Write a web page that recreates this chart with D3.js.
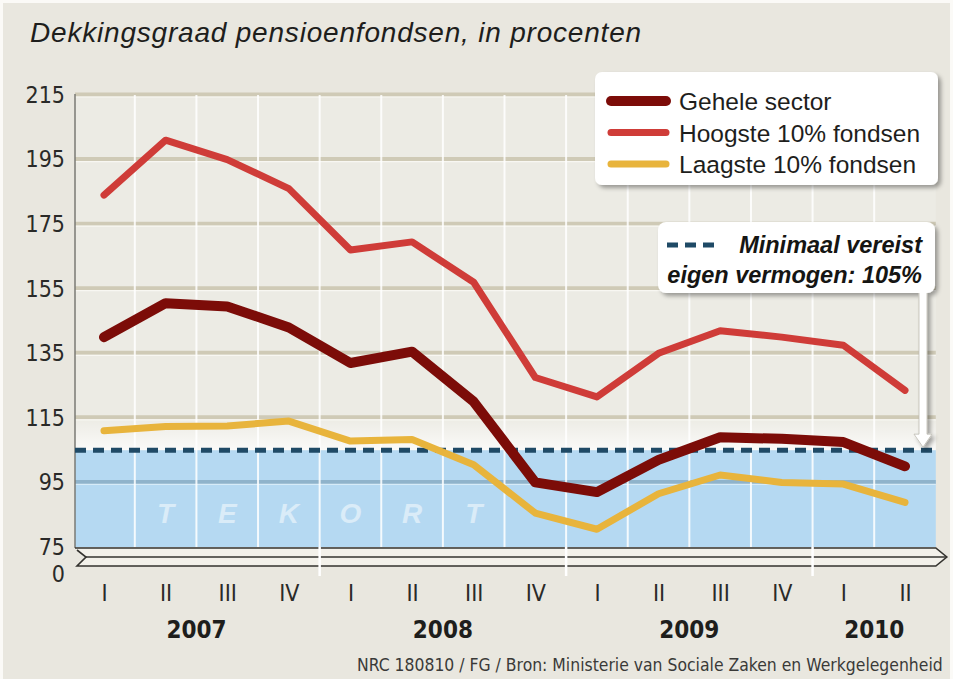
<!DOCTYPE html>
<meta charset="utf-8">
<style>
body { margin: 0; background: #fff; }
.narrow { font-family: "DejaVu Sans Condensed", "DejaVu Sans", sans-serif; font-stretch: condensed; }
.sans { font-family: "Liberation Sans", Arial, sans-serif; }
</style>
<body>
<script src="https://d3js.org/d3.v7.min.js"></script>
<script>

// quarters 2007 Q1 .. 2010 Q2
var quarters = ["I", "II", "III", "IV", "I", "II", "III", "IV", "I", "II", "III", "IV", "I", "II"];
var quarterYears = [2007, 2007, 2007, 2007, 2008, 2008, 2008, 2008, 2009, 2009, 2009, 2009, 2010, 2010];
var years = [2007, 2008, 2009, 2010];

var geheleSector = [140, 150.5, 149.5, 143, 132, 135.5, 120, 95, 92, 102, 109, 108.5, 107.5, 100];
var hoogste10 = [184, 201, 195, 186, 167, 169.5, 157, 127.5, 121.5, 135, 142, 140, 137.5, 123.5];
var laagste10 = [111, 112.3, 112.5, 114, 107.8, 108.3, 100.5, 85.5, 80.5, 91.5, 97.3, 95, 94.5, 88.8];

var seriesNames = ["Gehele sector", "Hoogste 10% fondsen", "Laagste 10% fondsen"];
var yTicks = [75, 95, 115, 135, 155, 175, 195, 215];
var brokenAxisLabel = "0";
var minimumVereist = 105;
var tekortLetters = ["T", "E", "K", "O", "R", "T"];

var width = 953;
var height = 679;

var svg = d3.select("body").append("svg")
  .attr("width", width).attr("height", height);

var defs = svg.append("defs");
var shadow = defs.append("filter").attr("id", "shadow")
  .attr("x", "-10%").attr("y", "-10%").attr("width", "130%").attr("height", "140%");
shadow.append("feDropShadow")
  .attr("dx", 3).attr("dy", 3).attr("stdDeviation", 2)
  .attr("flood-color", "#000").attr("flood-opacity", 0.35);

var glow = defs.append("linearGradient").attr("id", "glow")
  .attr("x1", 0).attr("y1", 0).attr("x2", 0).attr("y2", 1);
glow.append("stop").attr("offset", "0%").attr("stop-color", "#fff").attr("stop-opacity", 0);
glow.append("stop").attr("offset", "100%").attr("stop-color", "#fff").attr("stop-opacity", 0.75);

svg.append("rect")
  .attr("width", width).attr("height", height).attr("fill", "#fbfaf7");
svg.append("rect")
  .attr("x", 3).attr("y", 3)
  .attr("width", width - 6).attr("height", height - 3)
  .attr("fill", "#e9e7df");

var x = d3.scalePoint()
  .domain(d3.range(quarters.length))
  .range([104, 905]);
var step = x.step();

var y = d3.scaleLinear()
  .domain([75, 215])
  .range([547, 95]);

var plotLeft = 75;
var plotRight = x(quarters.length - 1) + step / 2;

// plot background
svg.append("rect")
  .attr("x", plotLeft).attr("y", y(215))
  .attr("width", plotRight - plotLeft).attr("height", y(75) - y(215))
  .attr("fill", "#ecebe4");

// tekort area (below the required minimum)
svg.append("rect")
  .attr("x", plotLeft).attr("y", y(minimumVereist))
  .attr("width", plotRight - plotLeft).attr("height", y(75) - y(minimumVereist))
  .attr("fill", "#b5d9f2");

svg.append("rect")
  .attr("x", plotLeft).attr("y", y(minimumVereist + 10))
  .attr("width", plotRight - plotLeft).attr("height", y(minimumVereist) - y(minimumVereist + 10))
  .attr("fill", "url(#glow)");

// horizontal grid
yTicks.filter(function(d) { return d > 75; }).forEach(function(v) {
  var below = v < minimumVereist;
  svg.append("line")
    .attr("x1", plotLeft).attr("x2", plotRight)
    .attr("y1", y(v) - 0.5).attr("y2", y(v) - 0.5)
    .attr("stroke", below ? "#8fb3cb" : "#cfcab6")
    .attr("stroke-width", 4);
  svg.append("line")
    .attr("x1", plotLeft).attr("x2", plotRight)
    .attr("y1", y(v) + 2).attr("y2", y(v) + 2)
    .attr("stroke", below ? "#d6ebf8" : "#f8f7f2")
    .attr("stroke-width", 1.2);
});

// vertical grid
d3.range(quarters.length - 1).forEach(function(i) {
  svg.append("line")
    .attr("x1", x(i) + step / 2).attr("x2", x(i) + step / 2)
    .attr("y1", y(215)).attr("y2", y(75))
    .attr("stroke", "#fff")
    .attr("stroke-opacity", 0.85)
    .attr("stroke-width", 2);
});

// TEKORT letters
svg.selectAll("text.tekort").data(tekortLetters).enter().append("text")
  .attr("class", "tekort sans")
  .attr("x", function(d, i) { return x(i + 1); })
  .attr("y", 523)
  .attr("text-anchor", "middle")
  .style("font-size", "28px")
  .style("font-weight", "bold")
  .style("font-style", "italic")
  .attr("fill", "#fff")
  .attr("fill-opacity", 0.5)
  .text(function(d) { return d; });

// y axis line
svg.append("line")
  .attr("x1", plotLeft).attr("x2", plotLeft)
  .attr("y1", y(215) - 1).attr("y2", y(75) + 1)
  .attr("stroke", "#7a7a74").attr("stroke-width", 1.5);

// broken axis band
var bandTop = y(75) + 1, bandMid = bandTop + 9, bandBot = bandTop + 18;
svg.append("path")
  .attr("d", "M" + plotLeft + "," + bandTop + "L" + plotRight + "," + bandTop +
    "L" + (plotRight + 11) + "," + bandMid + "L" + plotRight + "," + bandBot +
    "L" + (plotLeft + 2) + "," + bandBot + "L" + (plotLeft + 11) + "," + bandMid + "L" + (plotLeft + 2) + "," + (bandTop + 2))
  .attr("fill", "#f3f1ea")
  .attr("stroke", "#34332f")
  .attr("stroke-width", 1.6)
  .attr("stroke-linejoin", "miter");
svg.append("line")
  .attr("x1", plotLeft + 11).attr("x2", plotRight + 11)
  .attr("y1", bandMid).attr("y2", bandMid)
  .attr("stroke", "#34332f").attr("stroke-width", 1.6);

// year boundaries run through the axis band
d3.range(quarters.length - 1).forEach(function(i) {
  if (quarterYears[i] !== quarterYears[i + 1]) {
    svg.append("line")
      .attr("x1", x(i) + step / 2).attr("x2", x(i) + step / 2)
      .attr("y1", y(75)).attr("y2", bandBot + 10)
      .attr("stroke", "#fff").attr("stroke-width", 2.5);
  }
});

// minimum required line
svg.append("line")
  .attr("x1", plotLeft).attr("x2", plotRight)
  .attr("y1", y(minimumVereist)).attr("y2", y(minimumVereist))
  .attr("stroke", "#1f4a66")
  .attr("stroke-width", 5)
  .attr("stroke-dasharray", "11,7");

// series
var series = [
  { name: seriesNames[1], values: hoogste10, color: "#cf3c38", w: 7 },
  { name: seriesNames[2], values: laagste10, color: "#e8b43c", w: 7 },
  { name: seriesNames[0], values: geheleSector, color: "#7c0c08", w: 10 }
];

var line = d3.line()
  .x(function(d, i) { return x(i); })
  .y(function(d) { return y(d); });

svg.selectAll("path.series").data(series).enter().append("path")
  .attr("class", "series")
  .attr("d", function(d) { return line(d.values); })
  .attr("fill", "none")
  .attr("stroke", function(d) { return d.color; })
  .attr("stroke-width", function(d) { return d.w; })
  .attr("stroke-linejoin", "round")
  .attr("stroke-linecap", "round");

// axes
var yAxis = d3.axisLeft(y).tickValues(yTicks).tickSize(0).tickPadding(0);
var gy = svg.append("g").attr("class", "y axis")
  .attr("transform", "translate(65,0)")
  .call(yAxis);
gy.select(".domain").remove();
gy.selectAll("text")
  .attr("class", "narrow")
  .attr("fill", "#2a2a28")
  .style("font-size", "23px");

svg.append("text")
  .attr("class", "narrow")
  .attr("x", 65).attr("y", 582)
  .attr("text-anchor", "end")
  .attr("fill", "#2a2a28")
  .style("font-size", "23px")
  .text(brokenAxisLabel);

var xAxis = d3.axisBottom(x).tickSize(0).tickPadding(0)
  .tickFormat(function(i) { return quarters[i]; });
var gx = svg.append("g").attr("class", "x axis")
  .attr("transform", "translate(0,585)")
  .call(xAxis);
gx.select(".domain").remove();
gx.selectAll("text")
  .attr("class", "narrow")
  .attr("fill", "#2a2a28")
  .style("font-size", "23px");

svg.selectAll("text.year").data(years).enter().append("text")
  .attr("class", "year narrow")
  .attr("x", function(yr) {
    return d3.mean(d3.range(quarters.length).filter(function(i) { return quarterYears[i] === yr; }), x);
  })
  .attr("y", 638)
  .attr("text-anchor", "middle")
  .attr("fill", "#1e1e1c")
  .style("font-size", "24px")
  .style("font-weight", "bold")
  .text(function(yr) { return yr; });

// title
svg.append("text")
  .attr("class", "sans")
  .attr("x", 30).attr("y", 42)
  .attr("fill", "#1e1e1c")
  .style("font-size", "28px")
  .style("font-style", "italic")
  .style("letter-spacing", "0.8px")
  .text("Dekkingsgraad pensioenfondsen, in procenten");

// footer
svg.append("text")
  .attr("class", "narrow")
  .attr("x", 357).attr("y", 671)
  .attr("fill", "#3a3a38")
  .style("font-size", "17.4px")
  .text("NRC 180810 / FG / Bron: Ministerie van Sociale Zaken en Werkgelegenheid");

// legend
var legend = svg.append("g");
legend.append("rect")
  .attr("x", 595).attr("y", 72)
  .attr("width", 343).attr("height", 113)
  .attr("rx", 7)
  .attr("fill", "#fff")
  .attr("filter", "url(#shadow)");

var legendItems = [series[2], series[0], series[1]];
legendItems.forEach(function(s, i) {
  var ly = 101 + i * 31.5;
  legend.append("line")
    .attr("x1", 611).attr("x2", 666)
    .attr("y1", ly).attr("y2", ly)
    .attr("stroke", s.color)
    .attr("stroke-width", i === 0 ? 10 : 7)
    .attr("stroke-linecap", "round");
  legend.append("text")
    .attr("class", "sans")
    .attr("x", 679).attr("y", ly + 9)
    .attr("fill", "#1e1e1c")
    .style("font-size", "24.5px")
    .text(s.name);
});

// annotation with arrow down to the 105% line
var note = svg.append("g").attr("filter", "url(#shadow)");
var ax = 923;
var tipY = y(minimumVereist);
note.append("path")
  .attr("d", "M" + (ax - 4) + ",290 L" + (ax - 4) + "," + (tipY - 16) +
    " L" + (ax - 9) + "," + (tipY - 16) + " L" + ax + "," + (tipY - 3) +
    " L" + (ax + 9) + "," + (tipY - 16) + " L" + (ax + 4) + "," + (tipY - 16) +
    " L" + (ax + 4) + ",290 Z")
  .attr("fill", "#fff")
  .attr("stroke", "#bdbab0")
  .attr("stroke-width", 0.8);
note.append("rect")
  .attr("x", 658).attr("y", 222)
  .attr("width", 277).attr("height", 71)
  .attr("rx", 8)
  .attr("fill", "#fff");

svg.append("line")
  .attr("x1", 667).attr("x2", 720)
  .attr("y1", 245).attr("y2", 245)
  .attr("stroke", "#1f4a66")
  .attr("stroke-width", 5)
  .attr("stroke-dasharray", "11,7");
svg.append("text")
  .attr("class", "sans")
  .attr("x", 922).attr("y", 253)
  .attr("text-anchor", "end")
  .attr("fill", "#151513")
  .style("font-size", "23.5px")
  .style("font-weight", "bold")
  .style("font-style", "italic")
  .text("Minimaal vereist");
svg.append("text")
  .attr("class", "sans")
  .attr("x", 922).attr("y", 283)
  .attr("text-anchor", "end")
  .attr("fill", "#151513")
  .style("font-size", "23.5px")
  .style("font-weight", "bold")
  .style("font-style", "italic")
  .text("eigen vermogen: " + minimumVereist + "%");

</script>
</body>
